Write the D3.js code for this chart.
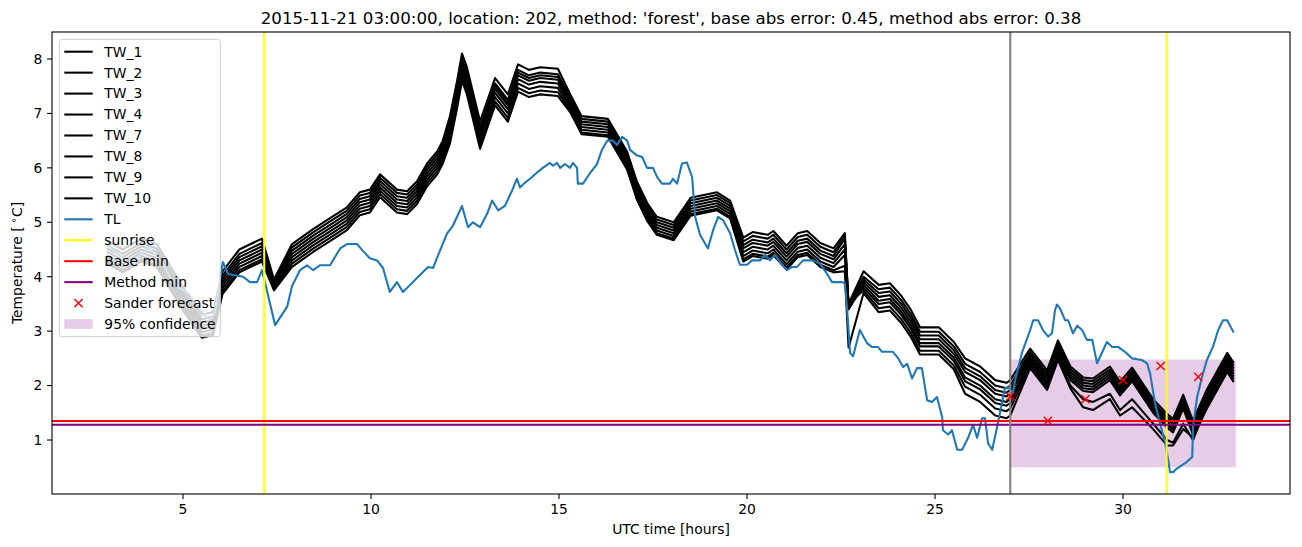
<!DOCTYPE html>
<html>
<head>
<meta charset="utf-8">
<script src="https://cdn.jsdelivr.net/npm/d3@7/dist/d3.min.js"></script>
<style>
  html, body { margin: 0; padding: 0; background: #fff; }
  svg { display: block; font-family: "DejaVu Sans", sans-serif; }
</style>
</head>
<body>
<svg id="chart" width="1302" height="547"></svg>
<script>
// ---------------- data ----------------
const titleText = "2015-11-21 03:00:00, location: 202, method: 'forest', base abs error: 0.45, method abs error: 0.38";
const xTicks = [5, 10, 15, 20, 25, 30];
const yTicks = [1, 2, 3, 4, 5, 6, 7, 8];

const twNames = ["TW_1", "TW_2", "TW_3", "TW_4", "TW_7", "TW_8", "TW_9", "TW_10"];
const twTime = [3.0,3.4,3.9,4.3,4.7,5.1,5.5,5.8,6.05,6.5,6.8,7.1,7.42,7.9,8.45,8.9,9.35,9.7,9.97,10.24,
  10.69,10.96,11.22,11.49,11.76,11.91,12.1,12.29,12.42,12.55,12.9,13.3,13.64,13.91,14.2,14.5,14.97,15.3,15.6,16.3,
  16.81,17.07,17.35,17.6,18.05,18.5,19.2,19.55,19.9,20.15,20.55,20.7,21.05,21.35,21.6,21.95,22.3,22.6,22.7,23.1,
  23.5,23.8,24.1,24.35,24.6,25.1,25.5,25.8,26.2,26.6,26.9,27.0,27.53,27.98,28.27,28.6,28.94,29.2,29.65,29.92,
  30.24,30.8,31.17,31.33,31.6,31.86,32.23,32.77,32.93];

const tw1 = [4.65,4.5,4.7,4.6,4.15,3.7,3.3,3.35,4.1,4.5,4.6,4.7,3.95,4.6,4.87,5.07,5.27,5.55,5.6,5.88,
  5.6,5.57,5.75,6.08,6.3,6.5,6.95,7.6,8.1,7.85,6.85,7.65,7.35,7.9,7.8,7.85,7.82,7.35,6.95,6.9,
  6.3,5.75,5.35,5.1,5.0,5.45,5.55,5.4,4.72,4.82,4.77,4.84,4.57,4.8,4.84,4.62,4.52,4.8,3.5,4.1,
  3.85,3.88,3.65,3.4,3.07,3.07,2.8,2.5,2.35,2.1,2.05,2.1,2.68,2.28,2.83,2.35,2.15,2.13,2.35,2.07,
  2.33,1.75,1.48,1.39,1.83,1.35,1.93,2.6,2.43];
const tw2 = [4.57,4.42,4.62,4.52,4.07,3.62,3.22,3.27,4.02,4.42,4.52,4.62,3.92,4.54,4.81,5.01,5.21,5.49,5.54,5.82,
  5.54,5.51,5.69,6.02,6.24,6.44,6.85,7.5,8.0,7.75,6.75,7.55,7.25,7.8,7.7,7.75,7.72,7.3,6.9,6.85,
  6.25,5.7,5.3,5.05,4.95,5.4,5.5,5.35,4.65,4.75,4.7,4.77,4.5,4.73,4.77,4.55,4.45,4.75,3.5,4.0,
  3.77,3.8,3.57,3.32,2.99,2.99,2.72,2.4,2.25,2.0,1.95,2.0,2.62,2.22,2.77,2.3,2.1,2.08,2.3,2.02,
  2.28,1.7,1.43,1.34,1.78,1.3,1.88,2.55,2.38];
const tw3 = [4.51,4.36,4.56,4.46,4.01,3.56,3.16,3.21,3.96,4.36,4.46,4.56,3.89,4.48,4.75,4.95,5.15,5.43,5.48,5.76,
  5.48,5.45,5.63,5.96,6.18,6.38,6.8,7.45,7.95,7.7,6.7,7.5,7.2,7.75,7.65,7.7,7.67,7.25,6.85,6.8,
  6.2,5.65,5.25,5.0,4.9,5.35,5.45,5.3,4.58,4.68,4.63,4.7,4.43,4.66,4.7,4.48,4.38,4.7,3.45,3.95,
  3.7,3.73,3.5,3.25,2.92,2.92,2.65,2.32,2.17,1.92,1.87,1.92,2.57,2.17,2.72,2.25,2.05,2.03,2.25,1.97,
  2.23,1.65,1.38,1.29,1.73,1.25,1.83,2.5,2.33];
const tw4 = [4.45,4.3,4.5,4.4,3.95,3.5,3.1,3.15,3.9,4.3,4.4,4.5,3.85,4.42,4.69,4.89,5.09,5.37,5.42,5.7,
  5.42,5.39,5.57,5.9,6.12,6.32,6.75,7.4,7.9,7.65,6.65,7.45,7.15,7.7,7.6,7.65,7.62,7.2,6.8,6.75,
  6.15,5.6,5.2,4.95,4.85,5.3,5.4,5.25,4.52,4.62,4.57,4.64,4.37,4.6,4.64,4.42,4.32,4.6,3.45,3.9,
  3.63,3.66,3.43,3.18,2.85,2.85,2.58,2.25,2.1,1.85,1.8,1.85,2.52,2.12,2.67,2.2,2.0,1.98,2.2,1.92,
  2.18,1.6,1.33,1.24,1.68,1.2,1.78,2.45,2.28];
const tw7 = [4.39,4.24,4.44,4.34,3.89,3.44,3.04,3.09,3.84,4.24,4.34,4.44,3.82,4.36,4.63,4.83,5.03,5.31,5.36,5.64,
  5.36,5.33,5.51,5.84,6.06,6.26,6.68,7.33,7.83,7.58,6.58,7.38,7.08,7.63,7.53,7.58,7.55,7.15,6.75,6.7,
  6.1,5.55,5.15,4.9,4.8,5.25,5.35,5.2,4.45,4.55,4.5,4.57,4.3,4.53,4.57,4.35,4.25,4.5,3.4,3.85,
  3.56,3.59,3.36,3.11,2.78,2.78,2.51,2.15,2.0,1.75,1.7,1.75,2.47,2.07,2.62,2.15,1.95,1.93,2.15,1.87,
  2.13,1.55,1.28,1.19,1.63,1.15,1.73,2.4,2.23];
const tw8 = [4.33,4.18,4.38,4.28,3.83,3.38,2.98,3.03,3.78,4.18,4.28,4.38,3.79,4.3,4.57,4.77,4.97,5.25,5.3,5.58,
  5.3,5.27,5.45,5.78,6.0,6.2,6.6,7.25,7.75,7.5,6.5,7.3,7.0,7.55,7.45,7.5,7.47,7.1,6.7,6.65,
  6.05,5.5,5.1,4.85,4.75,5.2,5.3,5.15,4.38,4.48,4.43,4.5,4.23,4.46,4.5,4.28,4.18,4.4,3.45,3.8,
  3.5,3.53,3.3,3.05,2.72,2.72,2.45,2.08,1.93,1.68,1.63,1.68,2.42,2.02,2.57,2.1,1.9,1.88,2.1,1.82,
  2.08,1.5,1.23,1.14,1.58,1.1,1.68,2.35,2.18];
const tw9 = [4.27,4.12,4.32,4.22,3.77,3.32,2.92,2.97,3.72,4.12,4.22,4.32,3.77,4.24,4.51,4.71,4.91,5.19,5.24,5.52,
  5.24,5.21,5.39,5.72,5.94,6.14,6.52,7.17,7.67,7.42,6.42,7.22,6.92,7.47,7.37,7.42,7.39,7.05,6.65,6.6,
  6.0,5.45,5.05,4.8,4.7,5.15,5.25,5.1,4.32,4.42,4.37,4.44,4.17,4.4,4.44,4.22,4.12,4.2,3.5,3.75,
  3.42,3.45,3.22,2.97,2.64,2.64,2.37,1.98,1.83,1.58,1.53,1.58,2.37,1.97,2.52,2.0,1.75,1.7,1.85,1.55,
  1.75,1.3,1.0,0.95,1.3,1.0,1.63,2.3,2.13];
const tw10 = [4.23,4.08,4.28,4.18,3.73,3.28,2.88,2.93,3.68,4.08,4.18,4.28,3.75,4.18,4.45,4.65,4.85,5.13,5.18,5.46,
  5.18,5.15,5.33,5.66,5.88,6.08,6.45,7.1,7.6,7.35,6.35,7.15,6.85,7.4,7.3,7.35,7.32,7.02,6.62,6.57,
  5.97,5.42,5.02,4.77,4.67,5.12,5.22,5.07,4.28,4.38,4.33,4.4,4.13,4.36,4.4,4.18,4.08,4.1,2.7,3.7,
  3.35,3.38,3.15,2.9,2.57,2.57,2.3,1.85,1.7,1.45,1.4,1.45,2.32,1.92,2.47,1.95,1.6,1.55,1.75,1.45,
  1.6,1.2,0.9,0.9,1.2,1.05,1.58,2.25,2.08];

const tlTime = [3.0,3.2,3.5,3.67,3.86,4.07,4.26,4.44,4.65,4.87,5.11,5.3,5.5,5.72,5.85,5.95,6.06,6.2,6.6,6.78,
  6.97,7.1,7.18,7.45,7.77,7.9,8.11,8.3,8.46,8.64,8.91,9.18,9.36,9.63,9.79,9.97,10.16,10.32,10.5,10.69,
  10.85,11.04,11.3,11.52,11.65,11.84,12.02,12.18,12.42,12.58,12.71,12.9,13.09,13.22,13.38,13.56,13.75,13.88,13.96,14.1,
  14.23,14.41,14.57,14.76,14.84,14.95,15.03,15.16,15.29,15.37,15.48,15.5,15.64,15.82,16.01,16.14,16.28,16.44,16.54,16.68,
  16.81,16.89,17.07,17.21,17.34,17.5,17.61,17.74,17.95,18.03,18.14,18.27,18.4,18.54,18.62,18.75,18.96,19.1,19.23,19.36,
  19.55,19.68,19.81,20.0,20.13,20.35,20.48,20.61,20.74,20.88,21.06,21.2,21.33,21.49,21.76,21.94,22.13,22.26,22.53,22.6,
  22.66,22.74,22.82,23.0,23.19,23.32,23.48,23.59,23.88,24.02,24.15,24.26,24.39,24.52,24.65,24.79,24.92,25.05,25.19,25.21,
  25.35,25.45,25.59,25.72,25.88,26.01,26.12,26.25,26.33,26.41,26.52,26.65,26.73,26.86,26.94,27.07,27.13,27.31,27.53,27.61,
  27.74,27.87,28.01,28.11,28.19,28.24,28.32,28.46,28.54,28.67,28.78,28.91,29.04,29.18,29.31,29.47,29.57,29.71,29.87,30.05,
  30.24,30.5,30.64,30.72,30.85,30.98,31.12,31.2,31.25,31.33,31.44,31.57,31.7,31.84,31.86,31.97,32.1,32.23,32.39,32.53,
  32.66,32.77,32.93];
const tlVal = [4.6,4.45,4.3,4.2,4.4,4.55,4.4,4.27,4.0,3.8,3.72,3.55,3.35,3.2,3.35,3.8,4.27,4.05,4.0,3.9,
  3.9,4.12,3.9,3.11,3.45,3.83,4.12,4.21,4.12,4.21,4.21,4.52,4.6,4.6,4.47,4.34,4.3,4.16,3.72,3.9,
  3.72,3.85,4.03,4.18,4.16,4.49,4.79,4.94,5.3,4.91,5.0,4.91,5.16,5.4,5.22,5.3,5.58,5.8,5.64,5.73,
  5.8,5.91,6.0,6.09,6.04,6.09,6.0,6.07,6.0,6.09,6.0,5.71,5.71,5.9,6.07,6.33,6.5,6.5,6.42,6.57,
  6.5,6.33,6.23,6.2,6.0,6.0,5.83,5.71,5.71,5.8,5.71,6.08,6.1,5.83,5.1,4.77,4.52,4.86,5.1,5.04,
  4.8,4.49,4.22,4.22,4.3,4.3,4.4,4.3,4.4,4.27,4.12,4.18,4.18,4.3,4.3,4.24,4.05,3.9,3.9,3.88,
  3.43,2.6,2.54,3.02,2.78,2.71,2.71,2.62,2.62,2.5,2.34,2.4,2.13,2.32,2.32,1.73,1.7,1.79,1.42,1.18,
  1.1,1.18,0.82,0.82,1.04,1.28,1.04,1.4,1.4,0.94,0.82,1.24,1.51,1.95,1.97,1.86,2.1,2.6,3.02,3.2,
  3.2,3.02,2.9,2.96,3.38,3.49,3.42,3.2,3.2,2.96,3.1,3.02,2.84,2.84,2.41,2.65,2.8,2.71,2.71,2.62,
  2.5,2.47,2.41,2.22,1.68,1.31,0.95,0.63,0.41,0.41,0.48,0.54,0.6,0.69,1.24,1.79,2.16,2.47,2.71,3.02,
  3.2,3.2,2.99];

const sunriseTimes = [7.16, 31.16];
const forecastTime = [27.0];
const baseMin = [1.35];
const methodMin = [1.28];
const sanderTime = [27, 28, 29, 30, 31, 32];
const sanderVal = [1.8, 1.35, 1.75, 2.1, 2.36, 2.16];
const confTime = [27.0, 33.0];
const confLow = [0.5, 0.5];
const confHigh = [2.48, 2.48];

const legendLabels = ["TW_1","TW_2","TW_3","TW_4","TW_7","TW_8","TW_9","TW_10","TL","sunrise","Base min","Method min","Sander forecast","95% confidence"];

// ---------------- drawing ----------------
const W = 1302, H = 547;
const L = 52, R = 1290, T = 32, B = 494;
const svg = d3.select("#chart");
const x = d3.scaleLinear().domain([1.516, 34.44]).range([L, R]);
const y = d3.scaleLinear().domain([0.008, 8.496]).range([B, T]);

svg.append("defs").append("clipPath").attr("id", "clip")
  .append("rect").attr("x", L).attr("y", T).attr("width", R - L).attr("height", B - T);
const plot = svg.append("g").attr("clip-path", "url(#clip)");

// confidence fill (zorder 1, behind lines)
plot.append("path")
  .datum(confTime.map((t, i) => ({ t, lo: confLow[i], hi: confHigh[i] })))
  .attr("d", d3.area().x(d => x(d.t)).y0(d => y(d.lo)).y1(d => y(d.hi)))
  .attr("fill", "purple").attr("fill-opacity", 0.2);

const line = d3.line().x(d => x(d[0])).y(d => y(d[1]));
const twSeries = [tw1, tw2, tw3, tw4, tw7, tw8, tw9, tw10];
twSeries.forEach(vals => {
  const pts = twTime.map((t, i) => [t, vals[i]]);
  plot.append("path").datum(pts).attr("d", line)
    .attr("fill", "none").attr("stroke", "#000").attr("stroke-width", 2.08)
    .attr("stroke-linejoin", "round").attr("stroke-linecap", "square");
});

plot.append("path").datum(tlTime.map((t, i) => [t, tlVal[i]])).attr("d", line)
  .attr("fill", "none").attr("stroke", "#1f77b4").attr("stroke-width", 2.08)
  .attr("stroke-linejoin", "round").attr("stroke-linecap", "square");

sunriseTimes.forEach(t => {
  plot.append("line").attr("x1", x(t)).attr("x2", x(t)).attr("y1", T).attr("y2", B)
    .attr("stroke", "yellow").attr("stroke-width", 2.08);
});
plot.append("line").attr("x1", L).attr("x2", R).attr("y1", y(baseMin[0])).attr("y2", y(baseMin[0]))
  .attr("stroke", "red").attr("stroke-width", 2.08);
plot.append("line").attr("x1", L).attr("x2", R).attr("y1", y(methodMin[0])).attr("y2", y(methodMin[0]))
  .attr("stroke", "purple").attr("stroke-width", 2.08);
forecastTime.forEach(t => {
  plot.append("line").attr("x1", x(t)).attr("x2", x(t)).attr("y1", T).attr("y2", B)
    .attr("stroke", "gray").attr("stroke-width", 2.08);
});

const ms = 4.1;
sanderTime.forEach((t, i) => {
  const cx = x(t), cy = y(sanderVal[i]);
  plot.append("path")
    .attr("d", `M${cx - ms},${cy - ms}L${cx + ms},${cy + ms}M${cx - ms},${cy + ms}L${cx + ms},${cy - ms}`)
    .attr("stroke", "red").attr("stroke-width", 1.4).attr("fill", "none");
});

// axes frame
const axG = svg.append("g");
axG.append("rect").attr("x", L).attr("y", T).attr("width", R - L).attr("height", B - T)
  .attr("fill", "none").attr("stroke", "#000").attr("stroke-width", 1.1);

xTicks.forEach(v => {
  axG.append("line").attr("x1", x(v)).attr("x2", x(v)).attr("y1", B).attr("y2", B + 4.9)
    .attr("stroke", "#000").attr("stroke-width", 1.1);
  axG.append("text").attr("x", x(v)).attr("y", B + 9.7).attr("dy", "0.76em")
    .attr("text-anchor", "middle").attr("font-size", 13.9).text(v);
});
yTicks.forEach(v => {
  axG.append("line").attr("x1", L - 4.9).attr("x2", L).attr("y1", y(v)).attr("y2", y(v))
    .attr("stroke", "#000").attr("stroke-width", 1.1);
  axG.append("text").attr("x", L - 9.7).attr("y", y(v)).attr("dy", "0.35em")
    .attr("text-anchor", "end").attr("font-size", 13.9).text(v);
});

axG.append("text").attr("x", (L + R) / 2).attr("y", 534)
  .attr("text-anchor", "middle").attr("font-size", 13.9).text("UTC time [hours]");

const yl = axG.append("text").attr("transform", `translate(22,${(T + B) / 2}) rotate(-90)`)
  .attr("text-anchor", "middle").attr("font-size", 13.9);
yl.append("tspan").text("Temperature [");
yl.append("tspan").attr("dx", 3).attr("dy", -5).attr("font-size", 10).text("∘");
yl.append("tspan").attr("dy", 5).text("C]");

svg.append("text").attr("x", (L + R) / 2).attr("y", 23.5)
  .attr("text-anchor", "middle").attr("font-size", 16.67).text(titleText);

// legend
const lg = svg.append("g");
lg.append("rect").attr("x", 59.3).attr("y", 39.3).attr("width", 161).attr("height", 297.4)
  .attr("rx", 3).attr("ry", 3)
  .attr("fill", "#fff").attr("fill-opacity", 0.8).attr("stroke", "#cccccc").attr("stroke-width", 1);
const legColors = ["#000","#000","#000","#000","#000","#000","#000","#000","#1f77b4","yellow","red","purple"];
legendLabels.forEach((lab, i) => {
  const cy = 51.7 + i * 20.95;
  if (i < 12) {
    lg.append("line").attr("x1", 64.3).attr("x2", 92.7).attr("y1", cy).attr("y2", cy)
      .attr("stroke", legColors[i]).attr("stroke-width", 2.08);
  } else if (i === 12) {
    const cx = 78.5;
    lg.append("path")
      .attr("d", `M${cx - ms},${cy - ms}L${cx + ms},${cy + ms}M${cx - ms},${cy + ms}L${cx + ms},${cy - ms}`)
      .attr("stroke", "red").attr("stroke-width", 1.4).attr("fill", "none");
  } else {
    lg.append("rect").attr("x", 64.3).attr("y", cy - 4.9).attr("width", 28.4).attr("height", 9.7)
      .attr("fill", "purple").attr("fill-opacity", 0.2);
  }
  lg.append("text").attr("x", 104.3).attr("y", cy).attr("dy", "0.35em")
    .attr("font-size", 13.9).text(lab);
});
</script>
</body>
</html>
